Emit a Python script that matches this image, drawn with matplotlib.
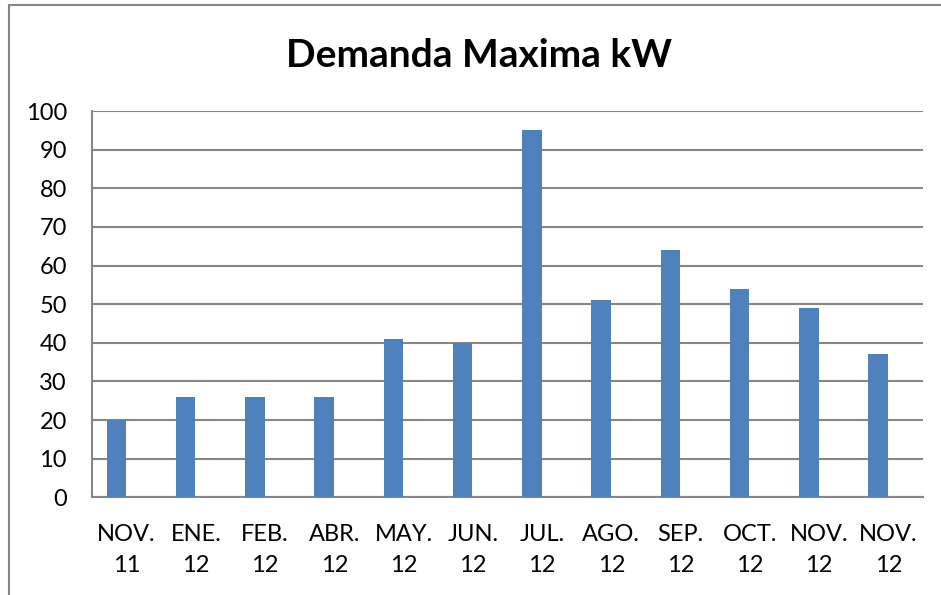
import matplotlib
matplotlib.use("Agg")
import matplotlib.pyplot as plt
from matplotlib.patches import Rectangle

categories = ["NOV.\n11", "ENE.\n12", "FEB.\n12", "ABR.\n12", "MAY.\n12", "JUN.\n12",
              "JUL.\n12", "AGO.\n12", "SEP.\n12", "OCT.\n12", "NOV.\n12", "NOV.\n12"]
values = [20, 26, 26, 26, 41, 40, 95, 51, 64, 54, 49, 37]
yticks = list(range(0, 101, 10))
title = "Demanda Maxima kW"

plt.rcParams['font.family'] = ['Lato', 'DejaVu Sans']

W, H = 941, 595
fig = plt.figure(figsize=(W / 100, H / 100), dpi=100)
fig.patch.set_facecolor("white")

# outer chart border
fig.patches.append(Rectangle((9 / W, -0.1), 1.2, 1 - 5 / H + 0.1, transform=fig.transFigure,
                             fill=False, edgecolor="#868686", linewidth=1.5))

ax = fig.add_axes([92 / W, 1 - 497.3 / H, (923 - 92) / W, (497.3 - 111) / H])
gray = "#868686"
x = list(range(len(categories)))
ax.bar([i - 0.149 for i in x], values, width=0.28, color="#4F81BD", zorder=3)
ax.set_xlim(-0.5, 11.5)
ax.set_ylim(0, 100)
ax.set_yticks(yticks)
ax.set_xticks(x)
ax.set_xticklabels(categories, fontsize=17, linespacing=1.6)
ax.tick_params(axis="y", length=0, pad=18, labelsize=17)
ax.tick_params(axis="x", length=0, pad=19)
ax.grid(axis="y", color=gray, linewidth=1.5, zorder=0)
for s in ["top", "right"]:
    ax.spines[s].set_visible(False)
for s in ["left", "bottom"]:
    ax.spines[s].set_color(gray)
    ax.spines[s].set_linewidth(1.5)

fig.text(479 / W, 1 - 67 / H, title, ha="center", va="baseline", fontsize=28, fontweight="bold")

fig.savefig("out.png", dpi=100)
